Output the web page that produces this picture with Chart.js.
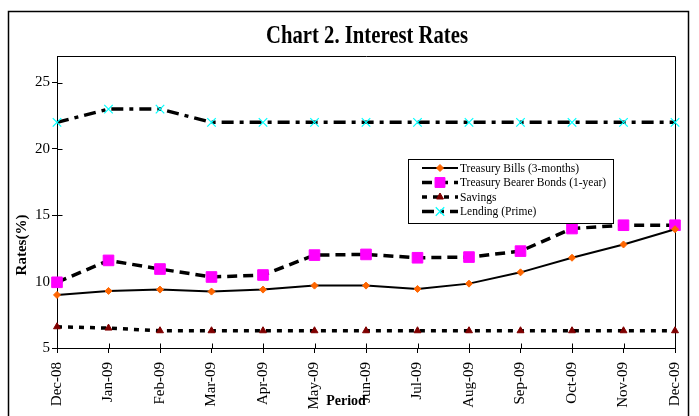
<!DOCTYPE html>
<html>
<head>
<meta charset="utf-8">
<script src="https://cdn.jsdelivr.net/npm/chart.js@4/dist/chart.umd.min.js"></script>
<style>
html, body { margin:0; padding:0; background:#fff; }
</style>
</head>
<body>
<canvas id="interestRates" width="699" height="416"></canvas>
<script>
var periods = ['Dec-08','Jan-09','Feb-09','Mar-09','Apr-09','May-09','Jun-09','Jul-09','Aug-09','Sep-09','Oct-09','Nov-09','Dec-09'];
var treasuryBills = [9.0, 9.3, 9.4, 9.25, 9.4, 9.7, 9.7, 9.45, 9.85, 10.7, 11.8, 12.8, 13.95];
var bearerBonds = [9.95, 11.6, 10.95, 10.35, 10.5, 12.0, 12.05, 11.8, 11.85, 12.3, 14.0, 14.25, 14.25];
var savings = [6.6, 6.5, 6.3, 6.3, 6.3, 6.3, 6.3, 6.3, 6.3, 6.3, 6.3, 6.3, 6.3];
var lending = [22, 23, 23, 22, 22, 22, 22, 22, 22, 22, 22, 22, 22];
var yTicks = [5, 10, 15, 20, 25];

var serif = '"Liberation Serif", "Times New Roman", serif';

// frame, plot box, title, axis titles and the boxed legend
var decorations = {
	id: 'decorations',
	beforeDraw: function(chart) {
		var ctx = chart.ctx;
		ctx.save();
		ctx.fillStyle = '#fff';
		ctx.fillRect(0, 0, chart.width, chart.height);
		ctx.strokeStyle = '#000';
		ctx.lineWidth = 1.5;
		ctx.strokeRect(8.5, 11.5, 680, 420);
		ctx.restore();
	},
	beforeDatasetsDraw: function(chart) {
		var a = chart.chartArea;
		var ctx = chart.ctx;
		var L = Math.round(a.left) + 0.5, T = Math.round(a.top) + 0.5;
		var R = Math.round(a.right) + 0.5, B = Math.round(a.bottom) + 0.5;
		ctx.save();
		ctx.strokeStyle = '#000';
		ctx.lineWidth = 1;
		ctx.beginPath();
		ctx.moveTo(L, T);
		ctx.lineTo(R, T);
		ctx.lineTo(R, B);
		// tick marks cross the axes, so add the inner halves
		chart.scales.x.ticks.forEach(function(t, i) {
			var x = Math.round(chart.scales.x.getPixelForTick(i)) + 0.5;
			ctx.moveTo(x, B);
			ctx.lineTo(x, B - 5);
		});
		chart.scales.y.ticks.forEach(function(t, i) {
			var y = Math.round(chart.scales.y.getPixelForValue(t.value)) + 0.5;
			ctx.moveTo(L, y);
			ctx.lineTo(L + 5, y);
		});
		ctx.stroke();
		ctx.restore();
	},
	afterDraw: function(chart) {
		var ctx = chart.ctx;
		ctx.save();

		// title, squeezed like the original
		var title = 'Chart 2. Interest Rates';
		ctx.font = 'bold 25px ' + serif;
		ctx.fillStyle = '#000';
		ctx.textBaseline = 'alphabetic';
		var w = ctx.measureText(title).width;
		var sx = 202 / w;
		ctx.save();
		ctx.translate(367, 43);
		ctx.scale(sx, 1);
		ctx.textAlign = 'center';
		ctx.fillText(title, 0, 0);
		ctx.restore();

		// y axis title
		ctx.save();
		ctx.font = 'bold 15px ' + serif;
		ctx.translate(22, 245);
		ctx.rotate(-Math.PI / 2);
		ctx.textAlign = 'center';
		ctx.textBaseline = 'middle';
		ctx.fillText('Rates(%)', 0, 0);
		ctx.restore();

		// x axis title
		ctx.font = 'bold 14px ' + serif;
		ctx.textAlign = 'center';
		ctx.textBaseline = 'middle';
		ctx.fillText('Period', 346, 401);

		// legend
		var lx = 408.5, ly = 159.5, lw = 205, lh = 64;
		ctx.fillStyle = '#fff';
		ctx.fillRect(lx, ly, lw, lh);
		ctx.strokeStyle = '#000';
		ctx.lineWidth = 1;
		ctx.strokeRect(lx, ly, lw, lh);
		ctx.font = '11.5px ' + serif;
		ctx.textAlign = 'left';
		ctx.textBaseline = 'middle';
		chart.data.datasets.forEach(function(ds, i) {
			var y = 168 + i * 14.5;
			ctx.save();
			ctx.strokeStyle = '#000';
			ctx.lineWidth = ds.borderWidth;
			ctx.setLineDash(ds.borderDash || []);
			ctx.beginPath();
			ctx.moveTo(422, y);
			ctx.lineTo(458, y);
			ctx.stroke();
			ctx.setLineDash([]);
			ctx.fillStyle = ds.pointBackgroundColor;
			ctx.strokeStyle = ds.pointBorderColor;
			ctx.lineWidth = ds.pointBorderWidth;
			Chart.helpers.drawPoint(ctx, {
				pointStyle: ds.pointStyle,
				radius: ds.legendRadius,
				rotation: 0,
				borderWidth: ds.pointBorderWidth
			}, 440, y);
			ctx.restore();
			ctx.fillStyle = '#000';
			ctx.fillText(ds.label, 460, y + 0.5);
		});
		ctx.restore();
	}
};

const ctx = document.getElementById('interestRates').getContext('2d');
const ratesChart = new Chart(ctx, {
	type: 'line',
	data: {
		labels: periods,
		datasets: [{
			label: 'Treasury Bills (3-months)',
			data: treasuryBills,
			borderColor: '#000',
			borderWidth: 2,
			pointStyle: 'rectRot',
			pointRadius: 3.5,
			legendRadius: 3.5,
			pointBackgroundColor: '#ff6600',
			pointBorderColor: '#ff6600',
			pointBorderWidth: 1,
			clip: false
		}, {
			label: 'Treasury Bearer Bonds (1-year)',
			data: bearerBonds,
			borderColor: '#000',
			borderWidth: 3.5,
			borderDash: [10, 6],
			pointStyle: 'rect',
			pointRadius: 7.5,
			legendRadius: 7,
			pointBackgroundColor: '#ff00ff',
			pointBorderColor: '#ff00ff',
			pointBorderWidth: 1,
			clip: false
		}, {
			label: 'Savings',
			data: savings,
			borderColor: '#000',
			borderWidth: 3.5,
			borderDash: [5, 6],
			pointStyle: 'triangle',
			pointRadius: 4,
			legendRadius: 4,
			pointBackgroundColor: '#800000',
			pointBorderColor: '#800000',
			pointBorderWidth: 1,
			clip: false
		}, {
			label: 'Lending (Prime)',
			data: lending,
			borderColor: '#000',
			borderWidth: 3.5,
			borderDash: [12, 6, 4, 6],
			pointStyle: 'crossRot',
			pointRadius: 6,
			legendRadius: 6,
			pointBackgroundColor: '#00ffff',
			pointBorderColor: '#00ffff',
			pointBorderWidth: 1.2,
			clip: false
		}]
	},
	options: {
		responsive: false,
		animation: false,
		devicePixelRatio: 1,
		layout: {
			padding: { left: 0, right: 24, top: 56, bottom: 0 }
		},
		elements: {
			line: { tension: 0 }
		},
		plugins: {
			legend: { display: false },
			title: { display: false },
			tooltip: { enabled: false }
		},
		scales: {
			x: {
				offset: false,
				grid: { drawOnChartArea: false, drawTicks: true, tickLength: 5, color: '#000' },
				border: { color: '#000', width: 1 },
				ticks: {
					color: '#000',
					font: { family: serif, size: 15 },
					maxRotation: 90,
					minRotation: 90,
					autoSkip: false,
					padding: 9
				},
				afterFit: function(scale) {
					scale.height = 68;
					scale.paddingLeft = 0;
					scale.paddingRight = 0;
				}
			},
			y: {
				min: 5,
				max: 27,
				grid: { drawOnChartArea: false, drawTicks: true, tickLength: 5, color: '#000' },
				border: { color: '#000', width: 1 },
				ticks: {
					color: '#000',
					font: { family: serif, size: 15 },
					padding: 2
				},
				afterBuildTicks: function(scale) {
					scale.ticks = yTicks.map(function(v) { return { value: v }; });
				},
				afterFit: function(scale) {
					scale.width = 57;
					scale.paddingTop = 0;
					scale.paddingBottom = 0;
				}
			}
		}
	},
	plugins: [decorations]
});
</script>
</body>
</html>
